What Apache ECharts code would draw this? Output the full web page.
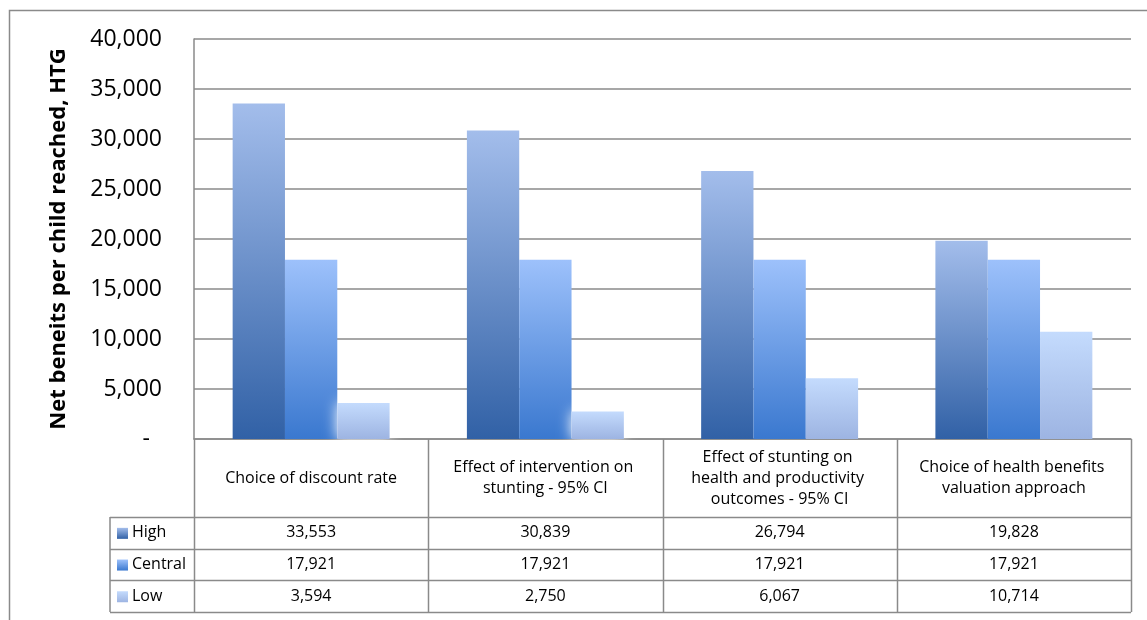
<!DOCTYPE html>
<html>
<head>
<meta charset="utf-8">
<script src="https://cdn.jsdelivr.net/npm/echarts@6/dist/echarts.min.js"></script>
<style>
    html, body { margin: 0; padding: 0; background: #fff; }
    #main { width: 1147px; height: 620px; }
</style>
</head>
<body>
<div id="main"></div>
<script>
    // chart data
    const categories = [
        'Choice of discount rate',
        'Effect of intervention on stunting - 95% CI',
        'Effect of stunting on health and productivity outcomes - 95% CI',
        'Choice of health benefits valuation approach'
    ];
    const seriesNames = ['High', 'Central', 'Low'];
    const highValues = [33553, 30839, 26794, 19828];
    const centralValues = [17921, 17921, 17921, 17921];
    const lowValues = [3594, 2750, 6067, 10714];
    const yMin = 0;
    const yMax = 40000;
    const yStep = 5000;
    const yTitle = 'Net beneits per child reached, HTG';

    const font = 'Open Sans';
    const lineColor = '#8a8a8a';

    // layout (pixels)
    const plotLeft = 194, plotRight = 1131, plotTop = 39, plotBottom = 439;
    const headerBottom = 517, rowH = 31.7, legendLeft = 110;

    const gradients = [
        ['#a3bdeb', '#3161a6'],
        ['#9dc1fb', '#3a78cf'],
        ['#c4dbfd', '#9db4e2']
    ];
    function grad(i) {
        return new echarts.graphic.LinearGradient(0, 0, 0, 1, [
            { offset: 0, color: gradients[i][0] },
            { offset: 1, color: gradients[i][1] }
        ]);
    }

    const seriesData = [highValues, centralValues, lowValues];
    const fmt = v => v.toLocaleString('en-US');

    let myChart = echarts.init(document.getElementById('main'));
    myChart.setOption({
        animation: false,
        grid: {
            left: plotLeft,
            right: 1147 - plotRight,
            top: plotTop,
            bottom: 620 - plotBottom
        },
        xAxis: {
            type: 'category',
            data: categories,
            axisLine: { lineStyle: { color: lineColor, width: 1.5 } },
            axisTick: { show: false },
            axisLabel: {
                interval: 0,
                color: '#000',
                fontFamily: font,
                fontSize: 16,
                width: 192,
                overflow: 'break',
                lineHeight: 21,
                margin: 39,
                verticalAlign: 'middle'
            }
        },
        yAxis: {
            type: 'value',
            min: yMin,
            max: yMax,
            interval: yStep,
            name: yTitle,
            nameLocation: 'middle',
            nameRotate: 90,
            nameGap: 124,
            nameTextStyle: { fontFamily: font, fontSize: 22, fontWeight: 'bold', color: '#000' },
            axisLine: { show: true, lineStyle: { color: lineColor, width: 1.5 } },
            axisTick: { show: false },
            splitLine: { lineStyle: { color: lineColor, width: 1.5 } },
            axisLabel: {
                color: '#000',
                fontFamily: font,
                fontSize: 23,
                margin: 32,
                formatter: v => v === 0 ? '{d|-}' : fmt(v),
                rich: { d: { fontFamily: font, fontSize: 23, padding: [0, 12, 0, 0] } }
            }
        },
        series: seriesNames.map((name, i) => ({
            name: name,
            type: 'bar',
            data: seriesData[i],
            barGap: '0%',
            barCategoryGap: '33%',
            itemStyle: {
                color: grad(i),
                shadowColor: 'rgba(255,255,255,1)',
                shadowBlur: 14
            }
        }))
    });

    // data table under the plot
    const n = categories.length;
    const band = (plotRight - plotLeft) / n;
    const tableBottom = headerBottom + rowH * 3;
    const g = [];
    g.push({
        type: 'rect', silent: true,
        shape: { x: 9.5, y: 10.5, width: 1160, height: 700 },
        style: { fill: 'none', stroke: lineColor, lineWidth: 1.5 }
    });
    for (let i = 0; i <= n; i++) {
        const x = Math.round(plotLeft + band * i) + 0.5;
        g.push({
            type: 'line', silent: true,
            shape: { x1: x, y1: plotBottom, x2: x, y2: tableBottom },
            style: { stroke: lineColor, lineWidth: 1.5 }
        });
    }
    g.push({
        type: 'line', silent: true,
        shape: { x1: legendLeft, y1: headerBottom, x2: legendLeft, y2: tableBottom },
        style: { stroke: lineColor, lineWidth: 1.5 }
    });
    for (let r = 0; r <= 3; r++) {
        const y = Math.round(headerBottom + rowH * r) + 0.5;
        g.push({
            type: 'line', silent: true,
            shape: { x1: legendLeft, y1: y, x2: plotRight, y2: y },
            style: { stroke: lineColor, lineWidth: 1.5 }
        });
    }
    seriesNames.forEach((name, r) => {
        const cy = headerBottom + rowH * (r + 0.5);
        g.push({
            type: 'rect', silent: true,
            shape: { x: 117, y: cy - 5, width: 11, height: 11 },
            style: { fill: grad(r) }
        });
        g.push({
            type: 'text', silent: true,
            style: {
                x: 132, y: cy, text: name, fill: '#000',
                font: '16px "' + font + '"', verticalAlign: 'middle'
            }
        });
        seriesData[r].forEach((v, c) => {
            g.push({
                type: 'text', silent: true,
                style: {
                    x: plotLeft + band * (c + 0.5), y: cy, text: fmt(v), fill: '#000',
                    font: '16px "' + font + '"', align: 'center', verticalAlign: 'middle'
                }
            });
        });
    });
    myChart.setOption({ graphic: g });
</script>
</body>
</html>
